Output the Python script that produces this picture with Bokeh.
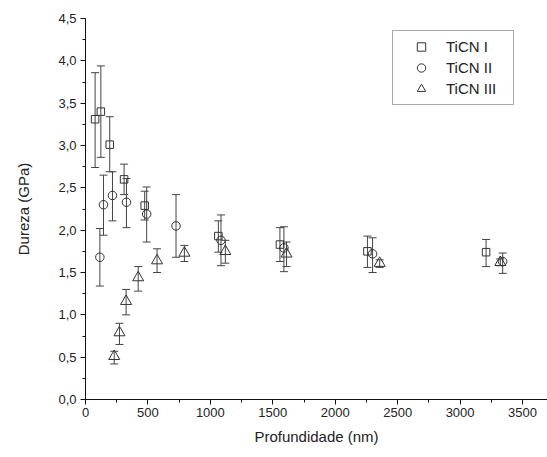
from bokeh.plotting import figure
from bokeh.models import (ColumnDataSource, Whisker, TeeHead, Legend, LegendItem,
                          SingleIntervalTicker, CustomJSTickFormatter, Range1d)
from bokeh.embed import file_html
from bokeh.resources import INLINE

# TiCN I (squares)
depth_I = [77, 123, 194, 309, 474, 1064, 1557, 2258, 3208]
hard_I = [3.31, 3.40, 3.01, 2.60, 2.29, 1.93, 1.83, 1.75, 1.74]
upper_I = [3.86, 3.94, 3.34, 2.78, 2.46, 2.11, 2.03, 1.93, 1.89]
lower_I = [2.74, 2.86, 2.69, 2.42, 2.12, 1.74, 1.63, 1.56, 1.57]

# TiCN II (circles)
depth_II = [115, 144, 216, 328, 490, 725, 1085, 1589, 2299, 3341]
hard_II = [1.68, 2.30, 2.41, 2.33, 2.19, 2.05, 1.88, 1.79, 1.72, 1.63]
upper_II = [2.02, 2.65, 2.69, 2.61, 2.51, 2.42, 2.18, 2.04, 1.91, 1.73]
lower_II = [1.34, 1.94, 2.11, 2.03, 1.86, 1.68, 1.58, 1.51, 1.50, 1.49]

# TiCN III (triangles)
depth_III = [230, 272, 325, 422, 573, 792, 1120, 1610, 2356, 3322]
hard_III = [0.51, 0.79, 1.16, 1.44, 1.64, 1.73, 1.75, 1.72, 1.61, 1.62]
upper_III = [0.57, 0.90, 1.30, 1.57, 1.78, 1.82, 1.88, 1.86, 1.65, 1.66]
lower_III = [0.42, 0.65, 1.00, 1.28, 1.50, 1.63, 1.61, 1.57, 1.56, 1.58]

labels = ["TiCN I", "TiCN II", "TiCN III"]

FONT = "Liberation Sans"
MARK = "#333333"
ERR = "#444444"

p = figure(width=547, height=456, output_backend="svg", toolbar_location=None,
           x_range=Range1d(0, 3700), y_range=Range1d(0, 4.5),
           min_border_left=85, min_border_right=0, min_border_top=18, min_border_bottom=57)
p.outline_line_color = None
p.xgrid.visible = False
p.ygrid.visible = False

series = [
    (depth_I, hard_I, upper_I, lower_I, "square", 7.5),
    (depth_II, hard_II, upper_II, lower_II, "circle", 8.5),
    (depth_III, hard_III, upper_III, lower_III, "triangle", 11),
]

items = []
for (dx, hy, up, lo, mk, sz), lab in zip(series, labels):
    src = ColumnDataSource(dict(x=dx, y=hy, upper=up, lower=lo))
    w = Whisker(source=src, base="x", upper="upper", lower="lower",
                line_color=ERR, line_width=1,
                upper_head=TeeHead(size=8, line_color=ERR, line_width=1),
                lower_head=TeeHead(size=8, line_color=ERR, line_width=1))
    p.add_layout(w)
    r = p.scatter("x", "y", source=src, marker=mk, size=sz, line_color=MARK,
                  line_width=1, fill_alpha=0)
    items.append(LegendItem(label=lab, renderers=[r]))

legend = Legend(items=items, location=(307, 294), border_line_color="#555555",
                border_line_width=1, padding=5, spacing=0, glyph_width=46,
                glyph_height=21, label_height=21, label_standoff=2, label_width=62,
                label_text_font=FONT, label_text_font_size="15px",
                label_text_color="#222222", background_fill_alpha=1,
                margin=0)
p.add_layout(legend)

for ax in (p.xaxis[0], p.yaxis[0]):
    ax.axis_line_color = "#111111"
    ax.major_tick_line_color = "#111111"
    ax.minor_tick_line_color = "#111111"
    ax.major_tick_in = 0
    ax.major_tick_out = 5
    ax.minor_tick_in = 0
    ax.minor_tick_out = 3
    ax.major_label_text_font = FONT
    ax.major_label_text_font_size = "13px"
    ax.major_label_text_color = "#222222"
    ax.axis_label_text_font = FONT
    ax.axis_label_text_font_size = "15px"
    ax.axis_label_text_font_style = "normal"
    ax.axis_label_text_color = "#222222"

p.xaxis.ticker = SingleIntervalTicker(interval=500, num_minor_ticks=2)
p.yaxis.ticker = SingleIntervalTicker(interval=0.5, num_minor_ticks=2)
p.yaxis.formatter = CustomJSTickFormatter(code="return tick.toFixed(1).replace('.', ',');")
p.xaxis.axis_label = "Profundidade (nm)"
p.yaxis.axis_label = "Dureza (GPa)"
p.xaxis.major_label_standoff = 3
p.yaxis.major_label_standoff = 4
p.xaxis.axis_label_standoff = 8
p.yaxis.axis_label_standoff = 23

open("out.html", "w").write(file_html(p, INLINE))
